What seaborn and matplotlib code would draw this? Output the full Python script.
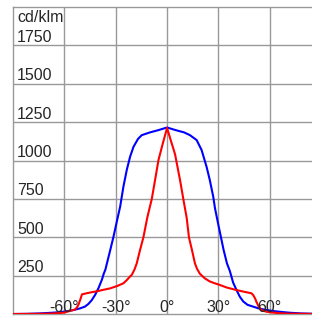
import pandas as pd
import seaborn as sns
import matplotlib.pyplot as plt

# blue curve (wide beam)
blue_angle = [-90, -82, -74, -66, -62, -58, -54.6, -51, -48, -46, -44, -42, -40, -38, -37, -36,
              -35, -33, -31.3, -29, -27.4, -25.5, -23.5, -21.6, -19.6, -17, -14.8, -10, -5, 0,
              5, 10, 13.4, 17.3, 20.2, 23.1, 25, 27, 28, 30, 31, 33, 35, 36.7, 38.6, 40.6,
              42.5, 44.5, 47, 50.3, 54, 58, 63, 68, 72, 78, 84, 90]
blue_val = [0, 1, 4, 9, 13, 19, 26, 36, 48, 65, 90, 125, 170, 225, 262, 290,
            335, 425, 503, 620, 699, 829, 940, 1024, 1089, 1140, 1165, 1183, 1198, 1215,
            1198, 1183, 1165, 1133, 1068, 959, 872, 764, 690, 580, 527, 420, 330, 280, 205, 156,
            113, 82, 60, 48, 35, 26, 18, 12, 8, 4, 2, 0]

# red curve (narrow beam)
red_angle = [-90, -75, -70, -64, -60, -58.4, -56, -53.6, -52.5, -51.6, -50.5, -49.7, -47, -44,
             -41, -37, -33.2, -29, -25.5, -23.5, -22, -20.6, -19, -17.7, -15.7, -13.8, -11.5,
             -8.9, -7, -5, -2.5, 0, 2.5, 4.7, 7.6, 9.5, 11.5, 12.8, 14.5, 16.3, 17.5, 19.2,
             22.1, 25, 27.9, 30.9, 35, 40.6, 45, 49.3, 50.3, 51.5, 52.2, 53.5, 55.1, 58, 62,
             66, 72, 80, 90]
red_val = [0, 1, 2, 5, 9, 15, 22, 30, 45, 65, 100, 128, 135, 142,
           148, 158, 167, 183, 200, 221, 240, 255, 290, 330, 420, 500, 630,
           750, 872, 1003, 1110, 1212, 1120, 1040, 872, 750, 625, 500, 420, 330, 295, 262,
           232, 212, 200, 189, 172, 156, 145, 135, 124, 100, 80, 50, 26, 15, 9,
           5, 2, 1, 0]

y_ticks = [250, 500, 750, 1000, 1250, 1500, 1750]
x_ticks = [-60, -30, 0, 30, 60]
unit = 'cd/klm'

df = pd.concat([
    pd.DataFrame({'angle': blue_angle, 'value': blue_val, 'curve': 'blue'}),
    pd.DataFrame({'angle': red_angle, 'value': red_val, 'curve': 'red'}),
])

sns.set_style('white')
plt.rcParams['font.family'] = ['Liberation Sans', 'DejaVu Sans']

fig = plt.figure(figsize=(3.12, 3.16), dpi=100)
ax = fig.add_axes([13 / 312, 2 / 316, 299 / 312, 307 / 316])

sns.lineplot(data=df, x='angle', y='value', hue='curve', estimator=None, sort=False,
             palette={'blue': '#0000ff', 'red': '#ff0000'}, linewidth=1.5,
             legend=False, ax=ax, zorder=3)

ax.set_xlim(-90, 84.7)
ax.set_ylim(0, 2000)
ax.set_xticks(x_ticks)
ax.set_yticks(y_ticks)
ax.tick_params(length=0, labelbottom=False, labelleft=False)
ax.grid(True, color='#999999', linewidth=1.0)
ax.set_xlabel('')
ax.set_ylabel('')
for s in ['left', 'top', 'bottom']:
    ax.spines[s].set_color('#999999')
    ax.spines[s].set_linewidth(1.0)
ax.spines['right'].set_visible(False)

# labels drawn inside the plot
for v in y_ticks:
    ax.text(-87.7, v + 23, str(v), fontsize=11.5, ha='left', va='baseline', zorder=4)
ax.text(-87.7, 1902, unit, fontsize=11.5, ha='left', va='baseline', zorder=4)
for a in x_ticks:
    ax.text(a, 16, f'{a}°', fontsize=11.5, ha='center', va='baseline', zorder=4)

fig.savefig('out.png', dpi=100)
